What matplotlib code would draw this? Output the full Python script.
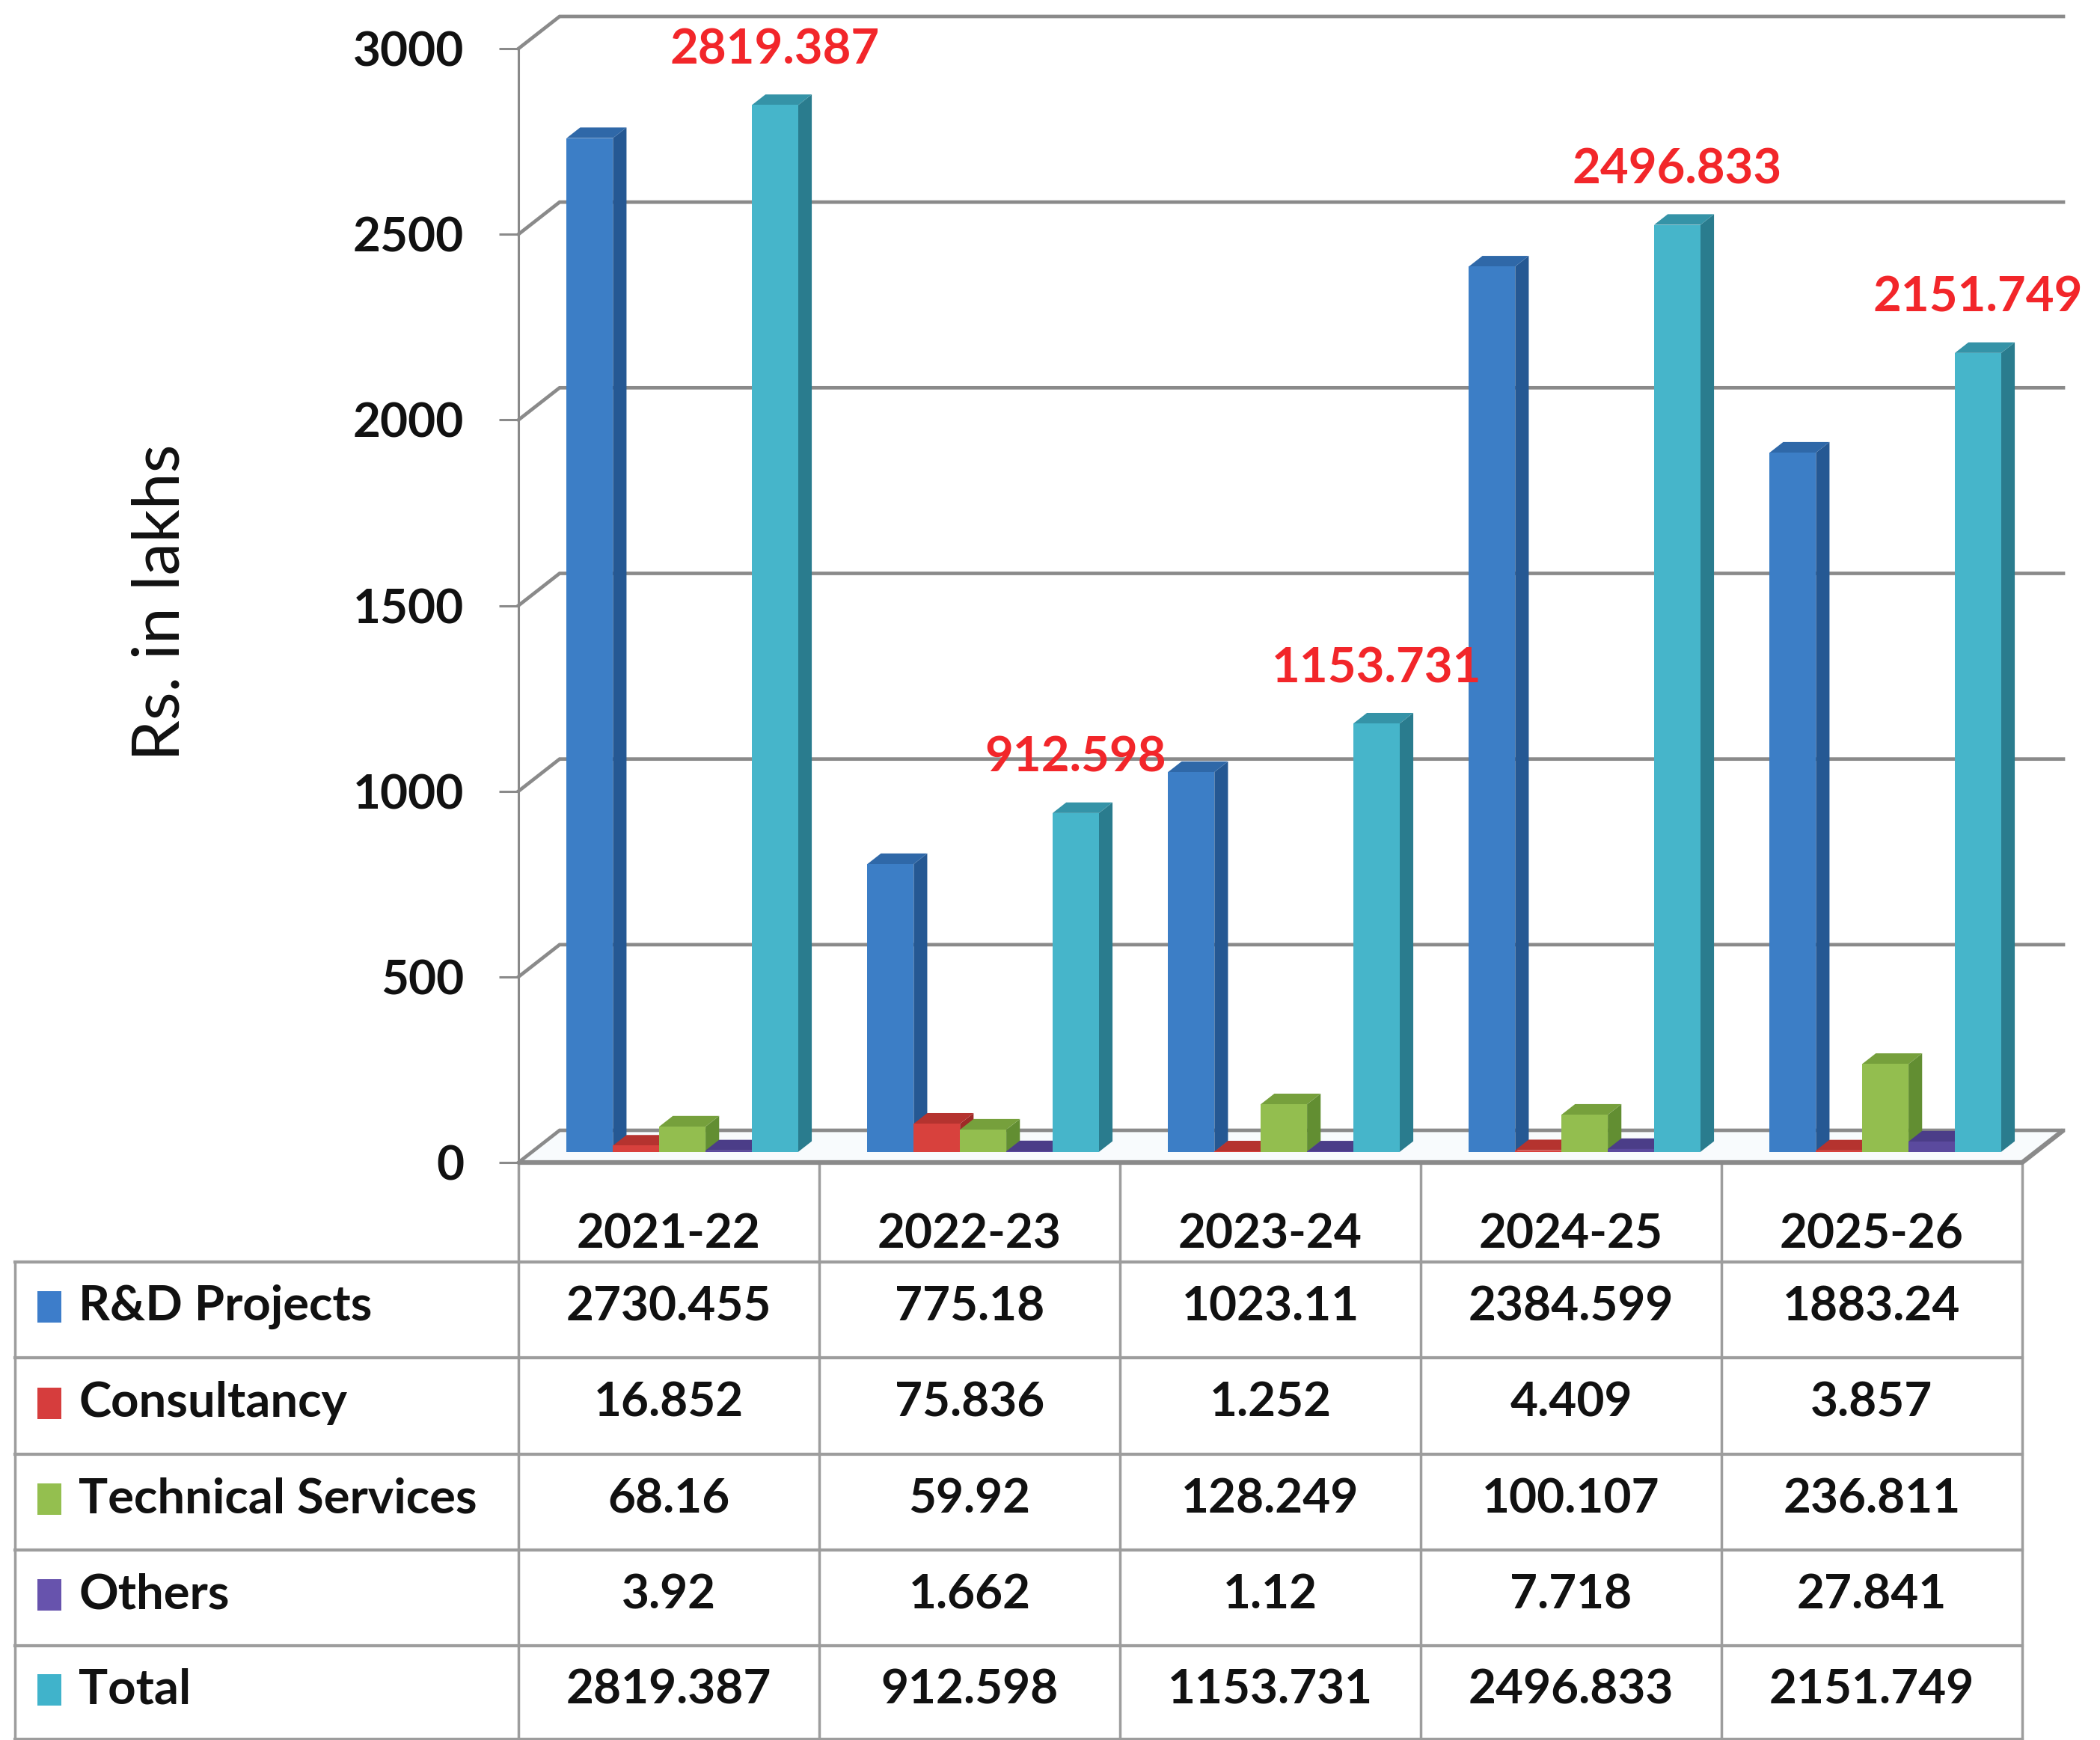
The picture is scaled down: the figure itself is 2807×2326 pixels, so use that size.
import matplotlib
matplotlib.use("Agg")
import matplotlib.pyplot as plt
from matplotlib.patches import Polygon, Rectangle
from matplotlib.transforms import blended_transform_factory

years = ["2021-22", "2022-23", "2023-24", "2024-25", "2025-26"]
series = ["R&D Projects", "Consultancy", "Technical Services", "Others", "Total"]
rnd = [2730.455, 775.18, 1023.11, 2384.599, 1883.24]
consultancy = [16.852, 75.836, 1.252, 4.409, 3.857]
technical = [68.16, 59.92, 128.249, 100.107, 236.811]
others = [3.92, 1.662, 1.12, 7.718, 27.841]
total = [2819.387, 912.598, 1153.731, 2496.833, 2151.749]
yticks = [0, 500, 1000, 1500, 2000, 2500, 3000]

values = [rnd, consultancy, technical, others, total]

# (front, side, top) shades per series
shades = [
    ("#3C7EC6", "#255893", "#2F68A8"),
    ("#D8413D", "#9E2A27", "#B5332F"),
    ("#93BE4F", "#628E32", "#76A03C"),
    ("#5B4A9E", "#3E3273", "#4B3D88"),
    ("#46B5CA", "#2A7C8E", "#3593A7"),
]
key_colors = ["#3D7DCA", "#D63D3D", "#94BF4F", "#6753AD", "#40B3CB"]

GRID = "#8a8a8a"
TABLE_LINE = "#9d9d9d"

W, H = 2807, 2326
plt.rcParams["font.family"] = ["Lato", "DejaVu Sans"]
fig = plt.figure(figsize=(W / 100, H / 100), dpi=100)

# pixel canvas for the table frame and row labels
canvas = fig.add_axes([0, 0, 1, 1])
canvas.set_xlim(0, W)
canvas.set_ylim(H, 0)
canvas.axis("off")

# front plane of the 3-D column chart
x_left, x_right = 693, 2703
y_zero, y_top = 1554, 65
ax = fig.add_axes([x_left / W, 1 - y_zero / H, (x_right - x_left) / W, (y_zero - y_top) / H])
ax.set_xlim(-0.5, 4.5)
ax.set_ylim(0, 3000)
ax.patch.set_visible(False)

# depth of the plot box (pixels) in data units
px_x = ax.bbox.width / 5
px_y = ax.bbox.height / 3000
DX = 55 / px_x
DY = 43 / px_y

# floor
ax.add_patch(Polygon([(-0.5, 0), (4.5, 0), (4.5 + DX, DY), (-0.5 + DX, DY)],
                     closed=True, facecolor="#f8fbfd", edgecolor="none", zorder=0.5, clip_on=False))
ax.plot([-0.5, 4.5, 4.5 + DX], [0, 0, DY], color=GRID, lw=4.5, zorder=1, clip_on=False,
        solid_capstyle="butt")

# side wall and back wall gridlines
for v in yticks:
    ax.plot([-0.5, -0.5 + DX, 4.5 + DX], [v, v + DY, v + DY], color=GRID, lw=3.4,
            zorder=1, clip_on=False, solid_joinstyle="miter")

# 3-D columns
bw = 0.154
f0, f1 = 0.33, 0.66
ddx, ddy = (f1 - f0) * DX, (f1 - f0) * DY
base = f0 * DY
for j, vals in enumerate(values):
    front, side, top = shades[j]
    xs = [i + (j - 2) * bw + f0 * DX for i in range(len(years))]
    for xc, v in zip(xs, vals):
        x0, x1 = xc - bw / 2, xc + bw / 2
        t = base + v
        ax.add_patch(Polygon([(x1, base), (x1 + ddx, base + ddy), (x1 + ddx, t + ddy), (x1, t)],
                             closed=True, facecolor=side, edgecolor="none", zorder=3 + 2 * j, clip_on=False))
        ax.add_patch(Polygon([(x0, t), (x0 + ddx, t + ddy), (x1 + ddx, t + ddy), (x1, t)],
                             closed=True, facecolor=top, edgecolor="none", zorder=3 + 2 * j, clip_on=False))
    ax.bar(xs, vals, width=bw, bottom=base, color=front, zorder=4 + 2 * j, clip_on=False)

    if series[j] == "Total":
        for xc, v in zip(xs, vals):
            ax.annotate(str(v), xy=(xc, base + v), xytext=(0, 53), textcoords="offset points",
                        ha="center", va="center", fontsize=47, fontweight="bold", color="#F2262A",
                        zorder=20, annotation_clip=False)

# y axis
for name in ["top", "right", "bottom"]:
    ax.spines[name].set_visible(False)
ax.spines["left"].set_color(GRID)
ax.spines["left"].set_linewidth(2.2)
ax.set_xticks([])
ax.set_yticks(yticks)
ax.tick_params(axis="y", length=18.5, width=2.2, color=GRID, labelsize=46, pad=34, labelcolor="#111111")
for lab in ax.get_yticklabels():
    lab.set_fontweight("bold")
ax.set_ylabel("Rs. in lakhs", fontsize=63, color="#111111", va="center")
ax.yaxis.set_label_coords(-0.238, 0.503)

# data table under the chart
col_tr = blended_transform_factory(ax.transData, canvas.transData)
table_top = y_zero
row_lines = [1687, 1815, 1944, 2072, 2200, 2325]
table_left = 20

for k in range(len(years) + 1):
    canvas.plot([k - 0.5, k - 0.5], [table_top, row_lines[-1]], transform=col_tr,
                color=TABLE_LINE, lw=2.5, clip_on=False)
canvas.plot([table_left, table_left], [row_lines[0], row_lines[-1]], color=TABLE_LINE, lw=2.5)
for yl in row_lines:
    canvas.plot([table_left, x_right], [yl, yl], color=TABLE_LINE, lw=3.0)

for i, yr in enumerate(years):
    canvas.text(i, 1650, yr, transform=col_tr, ha="center", va="center",
                fontsize=46, fontweight="bold", color="#111111")

for r, (name, vals) in enumerate(zip(series, values)):
    yc = (row_lines[r] + row_lines[r + 1]) / 2 - 4
    canvas.add_patch(Rectangle((50, yc - 21), 32, 42, facecolor=key_colors[r], edgecolor="none"))
    canvas.text(105, yc, name, ha="left", va="center", fontsize=47, fontweight="bold", color="#111111")
    for i, v in enumerate(vals):
        canvas.text(i, yc, str(v), transform=col_tr, ha="center", va="center",
                    fontsize=46, fontweight="bold", color="#111111")

fig.savefig("out.png", dpi=100, facecolor="white")
